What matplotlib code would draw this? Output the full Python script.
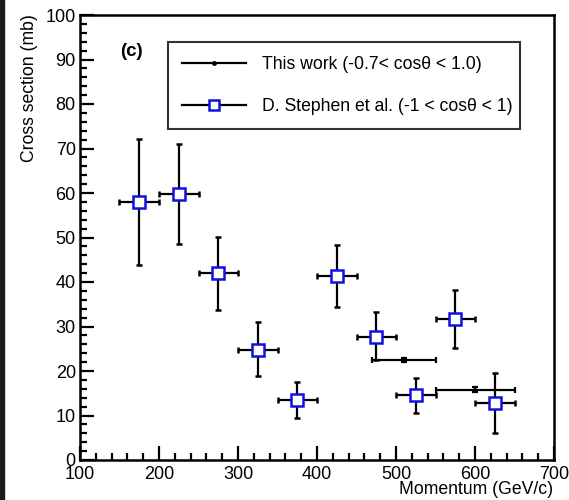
import numpy as np
import matplotlib.pyplot as plt
from matplotlib.ticker import MultipleLocator
from matplotlib.patches import Rectangle
from matplotlib.lines import Line2D

plt.rcParams['font.family'] = ['Liberation Sans', 'DejaVu Sans']

# D. Stephen et al.
st_x = [175, 225, 275, 325, 375, 425, 475, 525, 575, 625]
st_y = [57.9, 59.8, 42.0, 24.8, 13.4, 41.3, 27.6, 14.5, 31.7, 12.9]
st_lo = [43.9, 48.5, 33.6, 18.8, 9.4, 34.4, 22.5, 10.6, 25.2, 6.1]
st_hi = [72.1, 71.0, 50.2, 30.9, 17.5, 48.3, 33.3, 18.5, 38.2, 19.6]
st_xerr = [25, 25, 25, 25, 25, 25, 25, 25, 25, 25]

# This work
tw_x = [510, 600]
tw_y = [22.5, 15.8]
tw_xerr = [40, 50]
tw_yerr = [0.5, 0.5]

labels = ['This work (-0.7< cos\u03b8 < 1.0)', 'D. Stephen et al. (-1 < cos\u03b8 < 1)']

fig = plt.figure(figsize=(5.69, 5.0), dpi=100)
ax = fig.add_axes([80/569, 40/500, 474/569, 445/500])

st_y = np.array(st_y)
yerr = [st_y - np.array(st_lo), np.array(st_hi) - st_y]

ax.errorbar(tw_x, tw_y, xerr=tw_xerr, yerr=tw_yerr, fmt='o', ms=2, color='black',
            ecolor='black', elinewidth=1.6, capsize=2, capthick=1.6, zorder=2)
ax.errorbar(st_x, st_y, xerr=st_xerr, yerr=yerr, fmt='s', ms=8, mfc='white', mec='#1010e0',
            mew=1.8, ecolor='black', elinewidth=1.6, capsize=2, capthick=1.6, zorder=3)

ax.set_xlim(100, 700)
ax.set_ylim(0, 100)
ax.xaxis.set_major_locator(MultipleLocator(100))
ax.xaxis.set_minor_locator(MultipleLocator(20))
ax.yaxis.set_major_locator(MultipleLocator(10))
ax.yaxis.set_minor_locator(MultipleLocator(2))
ax.tick_params(which='both', direction='in', top=False, right=False, width=1.6, labelsize=13)
ax.tick_params(which='major', length=10)
ax.tick_params(which='minor', length=5)
ax.tick_params(axis='x', pad=4)
ax.tick_params(axis='y', pad=3)
for s in ax.spines.values():
    s.set_linewidth(1.8)

# legend handles drawn as plain lines like ROOT
h1 = Line2D([], [], color='black', lw=1.6, marker='o', ms=2.5)
h2 = Line2D([], [], color='black', lw=1.6, marker='s', ms=6.5, mfc='white', mec='#1010e0', mew=1.8)
leg = ax.legend(handles=[h1, h2], labels=labels,
                loc='upper left', bbox_to_anchor=(0.186, 0.752, 0.743, 0.187),
                mode='expand', fontsize=12.7, frameon=True, fancybox=False, handlelength=3.6,
                handletextpad=0.9, borderaxespad=0, labelspacing=1.4, borderpad=0.8)
leg.get_frame().set_edgecolor('black')
leg.get_frame().set_linewidth(1.5)

ax.text(0.084, 0.917, '(c)', transform=ax.transAxes, fontsize=13.5, fontweight='bold',
        ha='left', va='center')

fig.text(30/569, 1 - 14/500, 'Cross section (mb)', rotation=90, ha='center', va='top', fontsize=12.7)
fig.text(553/569, 1 - 490/500, 'Momentum (GeV/c)', ha='right', va='center', fontsize=12.7)

# dark strip on the left edge of the screenshot
fig.patches.append(Rectangle((0, 0), 4/569, 1, transform=fig.transFigure, color='#1a1a1a', zorder=-1))

fig.savefig('out.png', dpi=100)
